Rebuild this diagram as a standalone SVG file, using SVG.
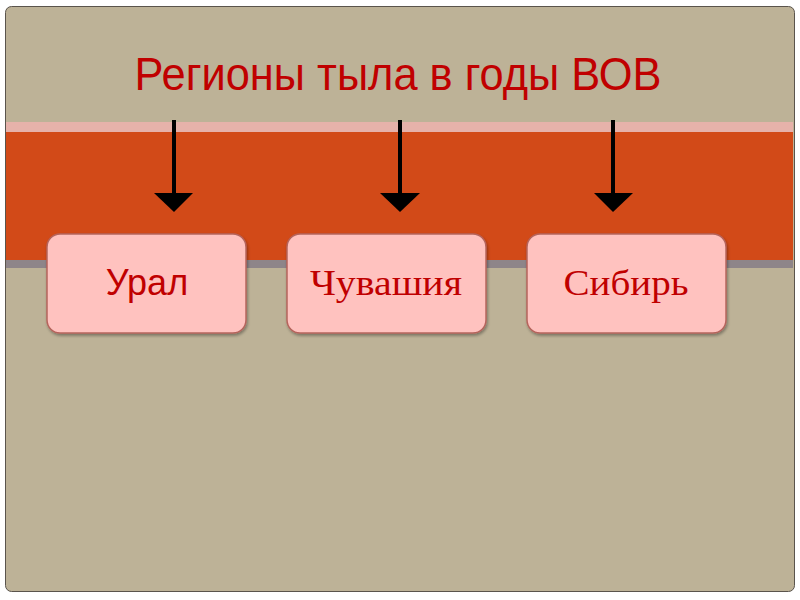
<svg xmlns="http://www.w3.org/2000/svg" width="800" height="600" viewBox="0 0 800 600">
<defs>
<style>
.box{fill:#FFC2BF;stroke:#B5645C;stroke-width:1.5}
.lbl{fill:#C00000;font-size:36px;text-anchor:middle}
.sans{font-family:"Liberation Sans",Arial,sans-serif}
.serif{font-family:"Liberation Serif","Times New Roman",serif}
.shaft{stroke:#000;stroke-width:4}
</style>
<filter id="sh" x="-10%" y="-10%" width="130%" height="130%"><feDropShadow dx="1" dy="2" stdDeviation="1.5" flood-color="#000" flood-opacity="0.35"/></filter>
</defs>
<rect width="800" height="600" fill="#fff"/>
<rect x="5.5" y="6.5" width="789" height="585" rx="6" fill="#BDB297" stroke="#5a544c" stroke-width="1"/>
<rect x="6" y="122" width="787" height="10" fill="#E6B2AA"/>
<rect x="6" y="132" width="787" height="128" fill="#D24A18"/>
<rect x="6" y="260" width="787" height="8" fill="#8E8589"/>
<text x="398" y="90" class="sans" fill="#C00000" font-size="46" text-anchor="middle" textLength="527" lengthAdjust="spacingAndGlyphs">Регионы тыла в годы ВОВ</text>
<g id="connectors">
<line class="shaft" x1="174" y1="120" x2="174" y2="196"/>
<polygon points="154,193 193,193 174,212"/>
<line class="shaft" x1="400" y1="120" x2="400" y2="196"/>
<polygon points="380,193 420,193 400,212"/>
<line class="shaft" x1="613" y1="120" x2="613" y2="196"/>
<polygon points="594,193 633,193 613,212"/>
</g>
<g id="ural">
<rect class="box" x="47" y="234" width="199" height="99" rx="13" filter="url(#sh)"/>
<text class="lbl sans" x="147" y="295" font-size="38">Урал</text>
</g>
<g id="chuvashia">
<rect class="box" x="287" y="234" width="199" height="99" rx="13" filter="url(#sh)"/>
<text class="lbl serif" x="386" y="295" textLength="152" lengthAdjust="spacingAndGlyphs">Чувашия</text>
</g>
<g id="sibir">
<rect class="box" x="527" y="234" width="199" height="99" rx="13" filter="url(#sh)"/>
<text class="lbl serif" x="626" y="295" textLength="125" lengthAdjust="spacingAndGlyphs">Сибирь</text>
</g>
</svg>
